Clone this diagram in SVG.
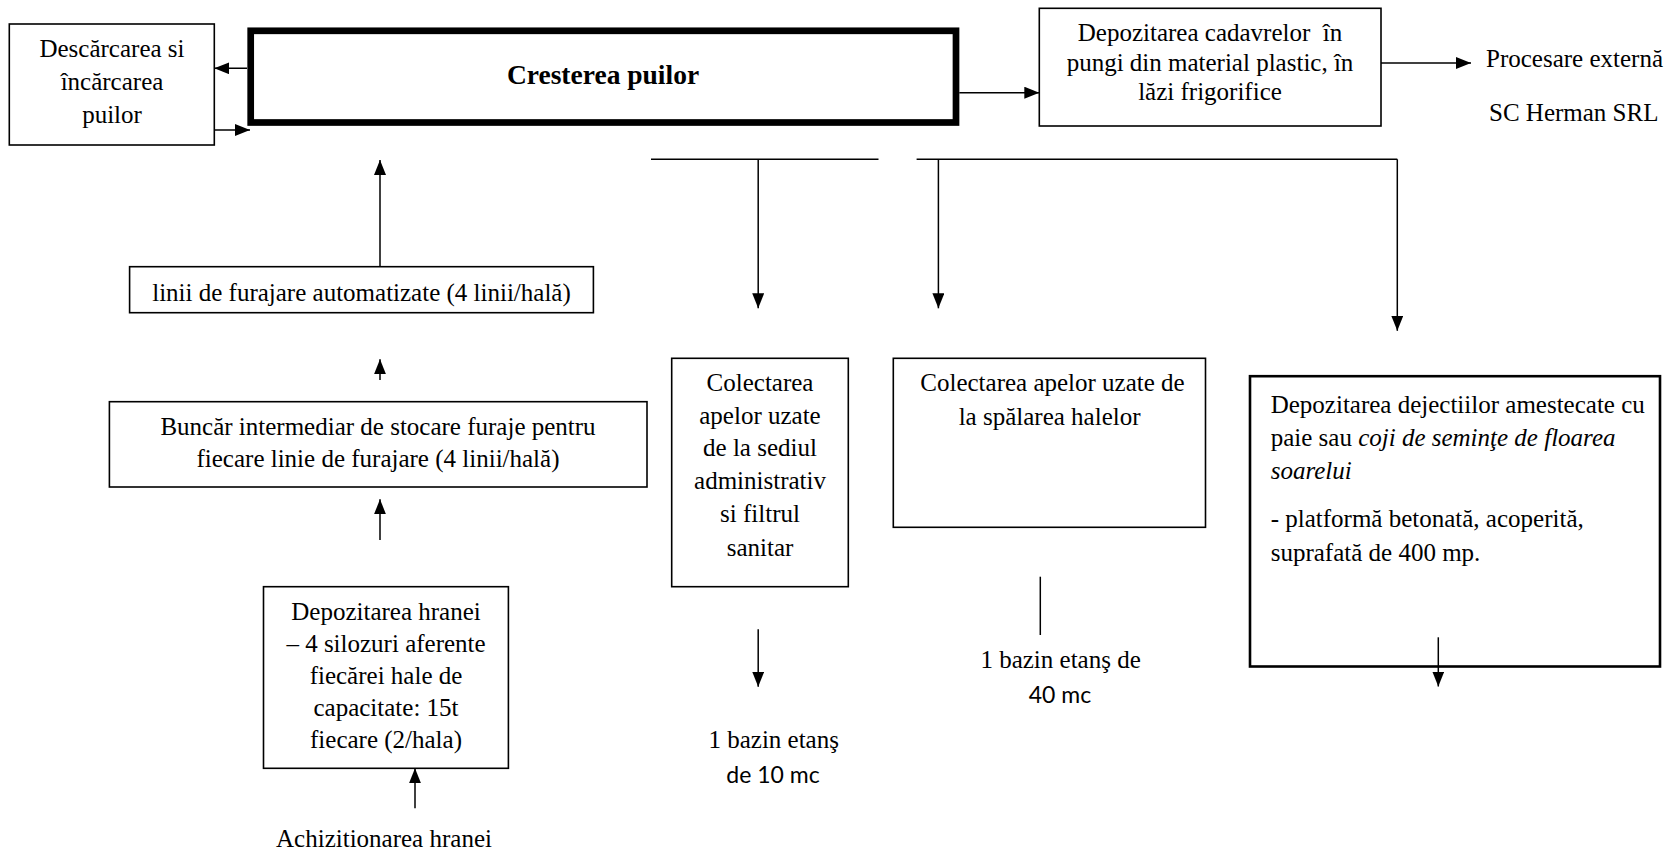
<svg xmlns="http://www.w3.org/2000/svg" width="1673" height="854" viewBox="0 0 1673 854" font-family="'Liberation Serif', 'Times New Roman', Times, serif" font-size="25">
<style>
.c{text-anchor:middle}
.b{font-weight:bold;font-size:27.5px}
.sans{font-family:Lato,"Liberation Sans",sans-serif;font-size:23px}
.box{fill:#fff;stroke:#000;stroke-width:1.6}
.thick{fill:#fff;stroke:#000;stroke-width:6.7}
.heavy{fill:#fff;stroke:#000;stroke-width:2.6}
.ln{fill:none;stroke:#000;stroke-width:1.5}
.ar{fill:none;stroke:#000;stroke-width:1.5;marker-end:url(#ah)}
</style>
<defs>
<marker id="ah" markerUnits="userSpaceOnUse" markerWidth="16" markerHeight="12" refX="15" refY="6" orient="auto">
<path d="M0,0 L15,6 L0,12 z" fill="#000"/>
</marker>
</defs>
<rect width="1673" height="854" fill="#fff"/>
<g id="descarcarea">
<rect class="box" x="9.3" y="24" width="205" height="121"/>
<text class="c" x="112" y="57.3">Descărcarea si</text>
<text class="c" x="112" y="90">încărcarea</text>
<text class="c" x="112" y="123">puilor</text>
</g>
<g id="cresterea">
<rect class="thick" x="250.7" y="30.8" width="705.3" height="91.7"/>
<text class="c b" x="603" y="84">Cresterea puilor</text>
</g>
<g id="cadavre">
<rect class="box" x="1039.3" y="8.3" width="341.7" height="117.7"/>
<text class="c" x="1210" y="41" xml:space="preserve">Depozitarea cadavrelor  în</text>
<text class="c" x="1210" y="70.5">pungi din material plastic, în</text>
<text class="c" x="1210" y="100">lăzi frigorifice</text>
</g>
<g id="procesare">
<text x="1486" y="67">Procesare externă</text>
<text x="1489" y="121">SC Herman SRL</text>
</g>
<g id="linii">
<rect class="box" x="129.6" y="266.7" width="463.8" height="46"/>
<text class="c" x="361.5" y="300.7">linii de furajare automatizate (4 linii/hală)</text>
</g>
<g id="buncar">
<rect class="box" x="109.4" y="401.7" width="537.6" height="85.3"/>
<text class="c" x="378" y="435">Buncăr intermediar de stocare furaje pentru</text>
<text class="c" x="378" y="466.7">fiecare linie de furajare (4 linii/hală)</text>
</g>
<g id="hrana">
<rect class="box" x="263.5" y="586.7" width="244.9" height="181.6"/>
<text class="c" x="386" y="620">Depozitarea hranei</text>
<text class="c" x="386" y="652">– 4 silozuri aferente</text>
<text class="c" x="386" y="684">fiecărei hale de</text>
<text class="c" x="386" y="716">capacitate: 15t</text>
<text class="c" x="386" y="748">fiecare (2/hala)</text>
</g>
<g id="achizitionare">
<text class="c" x="384" y="847.3">Achizitionarea hranei</text>
</g>
<g id="colectare-admin">
<rect class="box" x="671.7" y="358.3" width="176.6" height="228.4"/>
<text class="c" x="760" y="391">Colectarea</text>
<text class="c" x="760" y="423.5">apelor uzate</text>
<text class="c" x="760" y="456">de la sediul</text>
<text class="c" x="760" y="489">administrativ</text>
<text class="c" x="760" y="522">si filtrul</text>
<text class="c" x="760" y="556">sanitar</text>
</g>
<g id="colectare-hale">
<rect class="box" x="893.3" y="358.3" width="312.2" height="169"/>
<text class="c" x="1052.5" y="391">Colectarea apelor uzate de</text>
<text class="c" x="1049.6" y="425">la spălarea halelor</text>
</g>
<g id="bazin10">
<text class="c" x="773.7" y="748.3">1 bazin etanş</text>
<text class="c sans" x="773" y="783.3">de 10 mc</text>
</g>
<g id="bazin40">
<text class="c" x="1060.6" y="668.3">1 bazin etanş de</text>
<text class="c sans" x="1060" y="702.7">40 mc</text>
</g>
<g id="dejectii">
<rect class="heavy" x="1250" y="376.2" width="410" height="290.3"/>
<text x="1270.7" y="413">Depozitarea dejectiilor amestecate cu</text>
<text x="1270.7" y="446">paie sau <tspan font-style="italic">coji de seminţe de floarea</tspan></text>
<text x="1270.7" y="479" font-style="italic">soarelui</text>
<text x="1270.7" y="527">- platformă betonată, acoperită,</text>
<text x="1270.7" y="561">suprafată de 400 mp.</text>
</g>
<g id="connectors">
<line class="ar" x1="247" y1="68.3" x2="214.3" y2="68.3"/>
<line class="ar" x1="214.3" y1="130" x2="250" y2="130"/>
<line class="ar" x1="959.3" y1="92.7" x2="1039.3" y2="92.7"/>
<line class="ar" x1="1381" y1="63" x2="1471" y2="63"/>
<line class="ar" x1="380" y1="266.7" x2="380" y2="160"/>
<line class="ar" x1="380" y1="380" x2="380" y2="359.3"/>
<line class="ar" x1="380" y1="540" x2="380" y2="499.3"/>
<line class="ar" x1="415" y1="808.3" x2="415" y2="768.3"/>
<line class="ln" x1="651" y1="159.3" x2="878.5" y2="159.3"/>
<line class="ar" x1="758.2" y1="159.3" x2="758.2" y2="308.3"/>
<line class="ln" x1="916.6" y1="159.3" x2="1397.3" y2="159.3"/>
<line class="ar" x1="938.4" y1="159.3" x2="938.4" y2="308.3"/>
<line class="ar" x1="1397.3" y1="159.3" x2="1397.3" y2="330.8"/>
<line class="ar" x1="758.2" y1="629.3" x2="758.2" y2="686.7"/>
<line class="ln" x1="1040.3" y1="576.7" x2="1040.3" y2="635"/>
<line class="ar" x1="1438.3" y1="637.3" x2="1438.3" y2="686.5"/>
</g>
</svg>
